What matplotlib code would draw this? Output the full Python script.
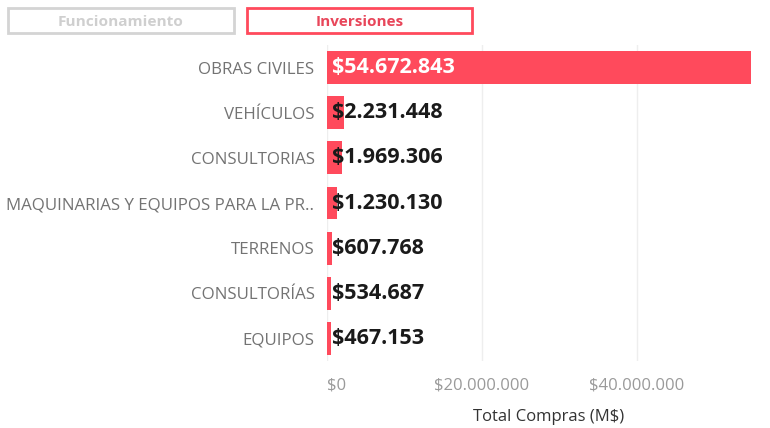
import matplotlib.pyplot as plt
from matplotlib.patches import Rectangle

categorias = ['OBRAS CIVILES', 'VEHÍCULOS', 'CONSULTORIAS',
              'MAQUINARIAS Y EQUIPOS PARA LA PR..', 'TERRENOS',
              'CONSULTORÍAS', 'EQUIPOS']
valores = [54672843, 2231448, 1969306, 1230130, 607768, 534687, 467153]
ticks = [0, 20000000, 40000000]
tick_labels = ['$0', '$20.000.000', '$40.000.000']

rojo = '#FF4A5C'

plt.rcParams['font.family'] = ['Open Sans', 'DejaVu Sans']

fig = plt.figure(figsize=(7.7, 4.28), dpi=100)
ax = fig.add_axes([327 / 770, 1 - 361 / 428, 443 / 770, 316 / 428])

y = list(range(len(categorias)))
ax.barh(y, valores, height=0.73, color=rojo, zorder=2)
ax.set_ylim(len(categorias) - 0.5, -0.5)
ax.set_xlim(0, 57160000)

def fmt(v):
    return '$' + f'{v:,}'.replace(',', '.')

# etiquetas desde el inicio de la barra
for i, v in enumerate(valores):
    c = 'white' if i == 0 else '#1a1a1a'
    ax.text(650000, i, fmt(v), color=c, fontsize=15.5,
            fontweight='bold', va='center', ha='left', zorder=3)

ax.set_yticks(y)
ax.set_yticklabels(categorias, color='#737373', fontsize=12.2)
ax.set_xticks(ticks)
ax.set_xticklabels(tick_labels, color='#9a9a9a', fontsize=12)
ax.tick_params(length=0, pad=9)
ax.tick_params(axis='x', pad=12)
for lab in ax.get_xticklabels()[:1]:
    lab.set_horizontalalignment('left')
ax.set_xlabel('Total Compras (M$)', fontsize=12, color='#333333', labelpad=11)
ax.grid(axis='x', color='#EEEEEE', linewidth=1, zorder=0)
for s in ax.spines.values():
    s.set_visible(False)

# botones superiores
fig.patches.append(Rectangle((8 / 770, 1 - 33 / 428), 226 / 770, 25 / 428,
                             transform=fig.transFigure, fill=False,
                             edgecolor='#D4D4D4', linewidth=2))
fig.patches.append(Rectangle((247 / 770, 1 - 33 / 428), 225 / 770, 25 / 428,
                             transform=fig.transFigure, fill=False,
                             edgecolor=rojo, linewidth=2))
fig.text(121 / 770, 1 - 21.5 / 428, 'Funcionamiento', color='#CFCFCF',
         fontsize=11.1, fontweight='bold', ha='center', va='center')
fig.text(360 / 770, 1 - 21.5 / 428, 'Inversiones', color='#E8465A',
         fontsize=11, fontweight='bold', ha='center', va='center')

fig.savefig('out.png', dpi=100)
